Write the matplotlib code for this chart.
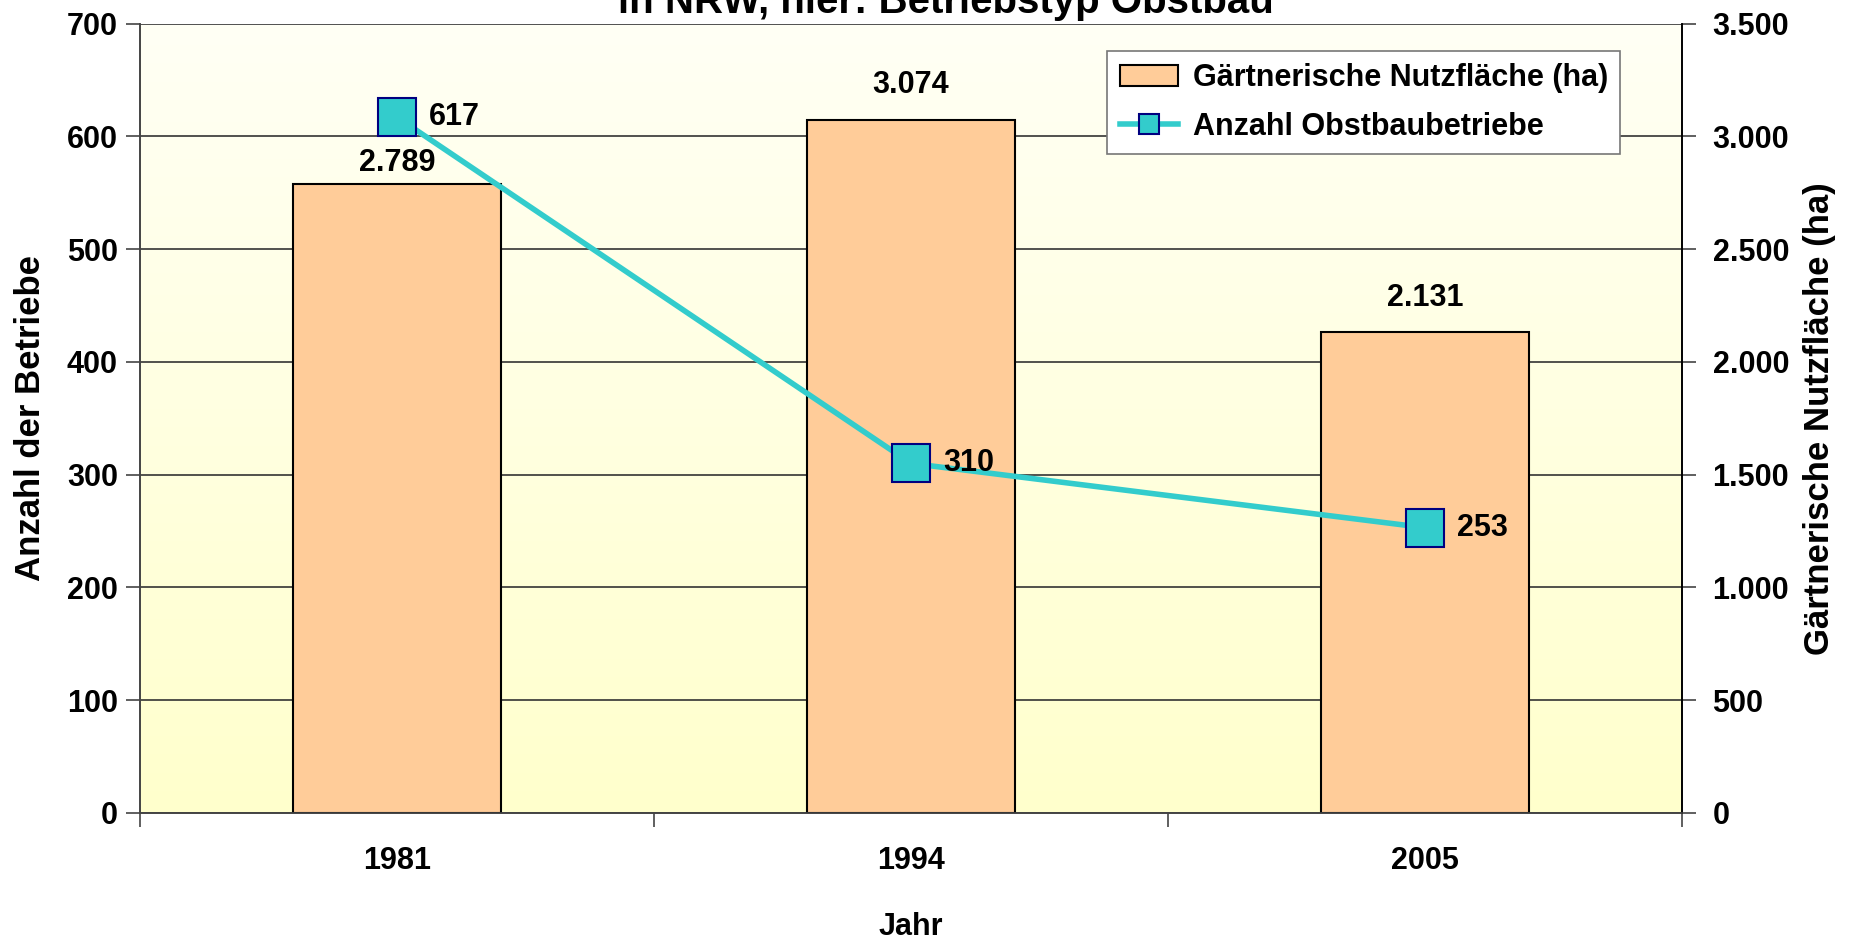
import matplotlib.pyplot as plt
import numpy as np
from matplotlib.colors import LinearSegmentedColormap

plt.rcParams['font.family'] = ['Liberation Sans', 'DejaVu Sans']
plt.rcParams['font.weight'] = 'bold'

years = ['1981', '1994', '2005']
flaeche = [2789, 3074, 2131]          # ha, right axis
betriebe = [617, 310, 253]            # left axis
flaeche_labels = ['2.789', '3.074', '2.131']
left_ticks = [0, 100, 200, 300, 400, 500, 600, 700]
right_ticks = [0, 500, 1000, 1500, 2000, 2500, 3000, 3500]
right_ticklabels = ['0', '500', '1.000', '1.500', '2.000', '2.500', '3.000', '3.500']

fs = 22
label_pad = [4, 14, 14]   # first bar label sits lower, under the marker

fig = plt.figure(figsize=(18.52, 9.43), dpi=100)
ax2 = fig.add_axes([0.0756, 0.1379, 0.8326, 0.8371])
ax = ax2.twinx()
# line axis on top, bars below
ax.yaxis.set_label_position('left')
ax.yaxis.tick_left()
ax2.yaxis.set_label_position('right')
ax2.yaxis.tick_right()
ax.set_zorder(2)
ax.patch.set_visible(False)
ax2.set_zorder(1)

x = np.arange(len(years))

# gradient background, pale at the top, yellow at the bottom
cmap = LinearSegmentedColormap.from_list('bg', ['#FFFFF5', '#FFFFCC'])
grad = np.linspace(0, 1, 256).reshape(-1, 1)
ax2.imshow(grad, cmap=cmap, aspect='auto', origin='upper',
           extent=[-0.5, 2.5, 0, 3500], zorder=0)

ax2.bar(x, flaeche, width=0.405, color='#FFCC99', edgecolor='black', linewidth=1.5,
        zorder=3, label='Gärtnerische Nutzfläche (ha)')
for xi, v, lab, p in zip(x, flaeche, flaeche_labels, label_pad):
    ax2.annotate(lab, (xi, v), xytext=(0, p), textcoords='offset points',
                 ha='center', va='bottom', fontsize=fs, fontweight='bold')

ax.plot(x, betriebe, color='#33CCCC', linewidth=4, marker='s', markersize=27,
        markerfacecolor='#33CCCC', markeredgecolor='#000080', markeredgewidth=1.5,
        zorder=5, label='Anzahl Obstbaubetriebe')
for xi, v in zip(x, betriebe):
    ax.annotate(str(v), (xi, v), xytext=(23, 0), textcoords='offset points',
                ha='left', va='center', fontsize=fs, fontweight='bold', zorder=6)

ax2.set_xlim(-0.5, 2.5)
ax2.set_ylim(0, 3500)
ax.set_ylim(0, 700)
ax2.set_yticks(right_ticks)
ax2.set_yticklabels(right_ticklabels)
ax.set_yticks(left_ticks)
ax2.yaxis.grid(True, color='#333333', linewidth=1.2, zorder=1)
ax2.set_axisbelow(True)

# x axis: tick marks at category boundaries, labels at centres
ax2.set_xticks([-0.5, 0.5, 1.5, 2.5])
ax2.set_xticklabels([])
ax2.set_xticks(x, minor=True)
ax2.set_xticklabels(years, minor=True)
ax2.tick_params(axis='x', which='major', direction='out', length=10, width=1.2, color='#444444')
ax2.tick_params(axis='x', which='minor', length=0, pad=24, labelsize=fs)
ax.tick_params(axis='y', direction='out', length=10, width=1.2, color='#444444', labelsize=fs, pad=6)
ax2.tick_params(axis='y', direction='out', length=10, width=1.2, color='#444444', labelsize=fs, pad=12)

for a in (ax, ax2):
    a.spines['top'].set_visible(False)
    a.spines['left'].set_color('#444444')
    a.spines['right'].set_color('black')
    a.spines['bottom'].set_color('#444444')
    for s in a.spines.values():
        s.set_linewidth(1.2)

ax.set_ylabel('Anzahl der Betriebe', fontsize=25, fontweight='bold', labelpad=14)
ax2.set_ylabel('Gärtnerische Nutzfläche (ha)', fontsize=25, fontweight='bold',
               rotation=90, labelpad=10)
ax2.set_xlabel('Jahr', fontsize=fs, fontweight='bold', labelpad=26)

fig.text(0.511, 1 - 13 / 943, 'in NRW, hier: Betriebstyp Obstbau', ha='center',
         va='baseline', fontsize=29, fontweight='bold')

h1, l1 = ax2.get_legend_handles_labels()
h2, l2 = ax.get_legend_handles_labels()
leg = ax.legend(h1 + h2, l1 + l2, loc='upper right', bbox_to_anchor=(0.96, 0.965),
                fontsize=fs, frameon=True, fancybox=False, edgecolor='#777777',
                framealpha=1, handlelength=1.9, handletextpad=0.5, markerscale=0.55,
                borderpad=0.4, labelspacing=0.6, borderaxespad=0)
leg.get_frame().set_linewidth(1.2)

fig.savefig('out.png', dpi=100)
